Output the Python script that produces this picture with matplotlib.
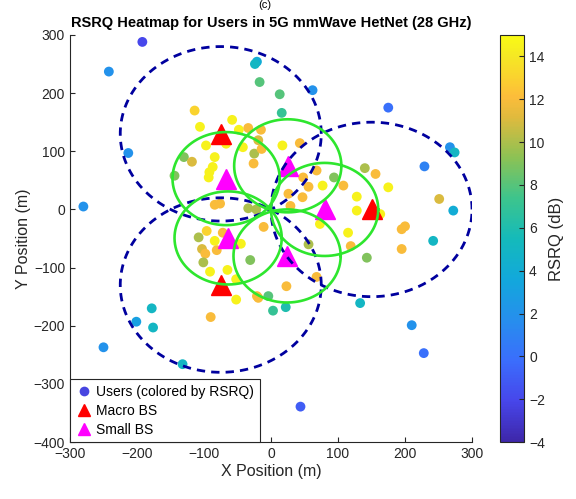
import matplotlib

matplotlib.use("Agg")
import matplotlib.pyplot as plt
import numpy as np
from matplotlib.colors import LinearSegmentedColormap
from matplotlib.lines import Line2D

plt.rcParams["font.family"] = ["Liberation Sans", "DejaVu Sans"]

# user equipment positions (m) and measured RSRQ (dB)
user_x = [-192, -242, -21, -24, -17, 13, 16, -213, -280, -114, -106, -58, -48, -34, -15,
          -97, -84, -130, -118, -87, -93, -144, -25, -26, -42, -14, -84, -76, -67, 17,
          43, -19, -92, -34, -22, 26, 29, -11, -108, -84, -103, -98, -81, -101, -45,
          -31, -91, -65, -52, -52, -90, 23, -19, 3, 22, -178, -176, -72, -96, -201,
          -250, -132, -21, -4, 62, 175, 267, 274, 229, 251, 272, 140, 156, 175, 77,
          94, 108, 128, 48, 56, 47, 68, 128, 73, 115, 119, 143, 195, 200, 195,
          163, 242, 56, 68, 133, 210, 228, 44]
user_y = [288, 237, 254, 250, 219, 198, 166, 97, 5, 170, 142, 154, 137, 140, 137,
          110, 90, 90, 82, 73, 55, 58, 96, 79, 107, 104, 8, 10, 113, 110,
          114, 119, 64, 2, 0, 27, 6, -30, -48, -54, -68, -76, -70, -91, -59,
          -87, -107, -104, -120, -155, -185, -132, -152, -174, -168, -170, -203, -40, -37, -193,
          -237, -266, -149, -149, 205, 175, 107, 98, 74, 18, -2, 71, 61, 38, 41,
          55, 41, 22, 55, 39, 21, 67, -2, -25, -40, -63, -83, -34, -29, -68,
          -8, -54, -60, -116, -161, -199, -247, -339]
user_rsrq = [-2, 2, 4, 5, 8, 8, 7, 2, 2, 13, 14.5, 14.5, 14.5, 12, 12,
             14.5, 14.5, 9, 11, 14.5, 14.5, 9, 10, 12, 14.5, 12, 12, 12, 14.5, 14.5,
             12, 11, 14.5, 10, 10, 12, 12, 12, 10, 14.5, 11, 12, 12, 10, 14.5,
             9, 14.5, 14.5, 14.5, 14.5, 12, 12, 12, 7, 6, 5, 5, 12, 13, 3,
             2, 5, 12, 8, 2, 0, 2, 5, 1, 11, 4, 10, 12, 14.5, 14.5,
             9, 12, 14.5, 12, 12, 12, 12, 14.5, 14.5, 14.5, 12, 9, 12, 12, 12,
             14.5, 5, 10, 12, 5, 2, 0, -1]

# base station sites (m)
macro_x = [-75, 150, -75]
macro_y = [130, 0, -130]
small_x = [80, 25, -67, -64, 24]
small_y = [0, 75, 53, -49, -80]
macro_radius = 150
small_radius = 80

# parula-like colormap
parula = LinearSegmentedColormap.from_list(
    "parula",
    [
        (0.00, (0.2422, 0.1504, 0.6603)),
        (0.10, (0.2780, 0.2760, 0.9200)),
        (0.20, (0.2300, 0.4300, 0.9900)),
        (0.30, (0.1500, 0.5600, 0.9300)),
        (0.40, (0.0700, 0.6600, 0.8600)),
        (0.50, (0.0800, 0.7300, 0.7300)),
        (0.60, (0.2400, 0.7700, 0.5500)),
        (0.70, (0.5500, 0.7600, 0.3300)),
        (0.80, (0.8800, 0.7300, 0.2400)),
        (0.85, (0.9900, 0.7400, 0.2300)),
        (0.90, (0.9800, 0.8300, 0.1800)),
        (0.95, (0.9600, 0.9100, 0.1400)),
        (1.00, (0.9769, 0.9839, 0.0805)),
    ],
)

fig = plt.figure(figsize=(5.76, 4.99), dpi=100)
ax = fig.add_axes([0.1215, 0.114, 0.698, 0.816])

sc = ax.scatter(user_x, user_y, c=user_rsrq, cmap=parula, vmin=-4, vmax=15,
                s=50, edgecolors="none", zorder=2)
ax.plot(macro_x, macro_y, "^", color="red", markersize=15, linestyle="none", zorder=3)
ax.plot(small_x, small_y, "^", color="magenta", markersize=15, linestyle="none", zorder=3)

theta = np.linspace(0, 2 * np.pi, 400)
for cx, cy in zip(macro_x, macro_y):
    ax.plot(cx + macro_radius * np.cos(theta), cy + macro_radius * np.sin(theta),
            color=(0.0, 0.0, 0.62), linewidth=2.0, dashes=(3.0, 2.2), zorder=4)
for cx, cy in zip(small_x, small_y):
    ax.plot(cx + small_radius * np.cos(theta), cy + small_radius * np.sin(theta),
            color=(0.18, 0.9, 0.18), linewidth=1.9, zorder=4)

ax.set_xlim(-300, 300)
ax.set_ylim(-400, 300)
ax.set_xticks(np.arange(-300, 301, 100))
ax.set_yticks(np.arange(-400, 301, 100))
ax.tick_params(direction="in", length=3.5, labelsize=10, colors=(0.15, 0.15, 0.15))
for side in ("top", "right"):
    ax.spines[side].set_visible(False)
for side in ("left", "bottom"):
    ax.spines[side].set_color((0.15, 0.15, 0.15))
    ax.spines[side].set_linewidth(0.8)

ax.set_xlabel("X Position (m)", fontsize=11.5, color=(0.15, 0.15, 0.15), labelpad=2)
ax.set_ylabel("Y Position (m)", fontsize=11.5, color=(0.15, 0.15, 0.15), labelpad=2)
ax.set_title("RSRQ Heatmap for Users in 5G mmWave HetNet (28 GHz)",
             fontsize=10.5, fontweight="bold", pad=6)
fig.text(0.46, 0.999, "(c)", ha="center", va="top", fontsize=8)

handles = [
    Line2D([], [], marker="o", linestyle="none", markersize=7,
           markerfacecolor=(0.28, 0.27, 0.88), markeredgecolor="none"),
    Line2D([], [], marker="^", linestyle="none", markersize=8, color="red"),
    Line2D([], [], marker="^", linestyle="none", markersize=8, color="magenta"),
]
leg = ax.legend(handles, ["Users (colored by RSRQ)", "Macro BS", "Small BS"],
                loc="lower left", borderaxespad=0, fontsize=10, fancybox=False,
                framealpha=1, edgecolor=(0.15, 0.15, 0.15), handletextpad=0.3,
                handlelength=1.2, borderpad=0.4, labelspacing=0.35)
leg.get_frame().set_linewidth(0.8)
leg.set_zorder(6)

cax = fig.add_axes([0.868, 0.114, 0.042, 0.816])
cb = fig.colorbar(sc, cax=cax, ticks=np.arange(-4, 15, 2))
cb.ax.tick_params(direction="in", length=3.5, labelsize=10, colors=(0.15, 0.15, 0.15))
cb.outline.set_edgecolor((0.15, 0.15, 0.15))
cb.outline.set_linewidth(0.8)
cb.set_label("RSRQ (dB)", fontsize=12, color=(0.15, 0.15, 0.15), labelpad=3)

fig.savefig("out.png", dpi=100)
